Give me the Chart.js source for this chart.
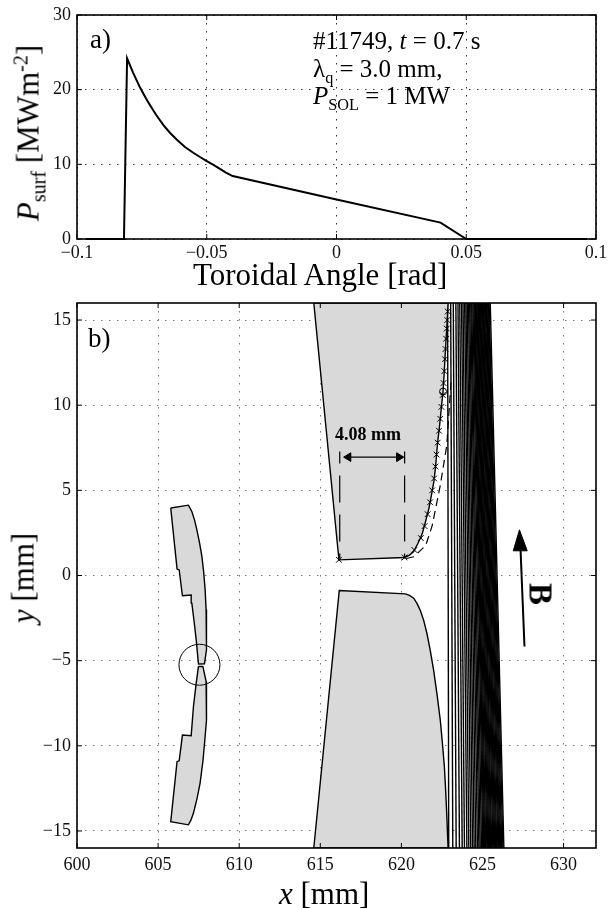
<!DOCTYPE html>
<html lang="en">
<head>
<meta charset="UTF-8">
<title>Toroidal heat load</title>
<script src="https://cdn.jsdelivr.net/npm/chart.js@4/dist/chart.umd.js"></script>
<style>
    html, body { margin: 0; padding: 0; background: #fff; }
    #page { position: relative; width: 608px; height: 909px; overflow: hidden; font-family: "Liberation Serif", serif; color: #000; }
    canvas { position: absolute; left: 0; }
    .t { position: absolute; white-space: nowrap; line-height: 1; }
    .t i { font-style: italic; }
    .t sub, .t sup { font-size: 65%; line-height: 0; }
</style>
</head>
<body>
<div id="page">
    <canvas id="chartA" width="608" height="290" style="top:0"></canvas>
    <canvas id="chartB" width="608" height="619" style="top:290px"></canvas>

    <div class="t" style="left:90px;top:26px;font-size:27px">a)</div>
    <div class="t" style="left:313px;top:28px;font-size:25px">#11749, <i>t</i> = 0.7 s</div>
    <div class="t" style="left:313px;top:56px;font-size:25px">&lambda;<sub>q</sub> = 3.0 mm,</div>
    <div class="t" style="left:313px;top:83px;font-size:25px"><i>P</i><sub>SOL</sub> = 1 MW</div>
    <div class="t" style="left:193px;top:259px;font-size:31px">Toroidal Angle [rad]</div>
    <div class="t" style="left:28px;top:133px;font-size:31px;transform:translate(-50%,-50%) rotate(-90deg)"><i>P</i><sub>surf</sub> [MWm<sup>-2</sup>]</div>

    <div class="t" style="left:88px;top:325px;font-size:27px">b)</div>
    <div class="t" style="left:335px;top:425px;font-size:18px;font-weight:bold">4.08 mm</div>
    <div class="t" style="left:540px;top:594px;font-size:33px;font-weight:bold;transform:translate(-50%,-50%) rotate(90deg)">B</div>
    <div class="t" style="left:23px;top:578px;font-size:31px;transform:translate(-50%,-50%) rotate(-90deg)"><i>y</i> [mm]</div>
    <div class="t" style="left:279px;top:878px;font-size:31px"><i>x</i> [mm]</div>
</div>

<script>
    // panel a) surface power vs toroidal angle
    const angle = [-0.0965, -0.0819, -0.0807, -0.0784, -0.0757, -0.0734, -0.0719, -0.0696, -0.0667, -0.0642, -0.0616, -0.0584, -0.0552, -0.0526, -0.05, -0.0476, -0.0449, -0.0426, -0.04, 0, 0.0401, 0.05, 0.0965]
    const power = [0, 0, 24.2, 22.29, 20.28, 18.81, 17.94, 16.67, 15.26, 14.23, 13.32, 12.32, 11.55, 10.98, 10.44, 9.95, 9.4, 8.9, 8.43, 5.3, 2.2, 0, 0]
    const angleTicks = [-0.1, -0.05, 0, 0.05, 0.1]
    const angleTickLabels = ['\u22120.1', '\u22120.05', '0', '0.05', '0.1']
    const powerTicks = [0, 10, 20, 30]

    // panel b) tile outlines in mm
    const upperTileX = [614.6, 616.15, 620.2, 620.5, 620.76, 621.0, 621.15, 621.3, 621.5, 621.7, 621.85, 622.0, 622.1, 622.17, 622.24, 622.32, 622.4, 622.48, 622.57, 622.64, 622.7, 622.76, 622.82, 622.88, 614.6]
    const upperTileY = [16, 0.92, 1.06, 1.2, 1.41, 1.85, 2.15, 2.49, 3.2, 3.95, 4.7, 5.5, 6.3, 7.1, 7.85, 8.5, 9.2, 10, 10.8, 11.9, 12.95, 13.9, 14.9, 16, 16]
    const lowerTileX = [614.6, 616.17, 620.25, 620.5, 620.76, 620.97, 621.17, 621.38, 621.58, 621.78, 621.99, 622.2, 622.4, 622.53, 622.65, 622.73, 622.81, 622.88, 614.6]
    const lowerTileY = [-16, -0.88, -1.08, -1.17, -1.33, -1.65, -2.05, -2.65, -3.42, -4.4, -5.57, -7.0, -8.5, -9.85, -11.2, -12.6, -14.3, -16, -16]
    const gapUpperX = [605.78, 606.87, 607.08, 607.25, 607.39, 607.55, 607.7, 607.81, 607.9, 607.96, 608.0, 607.99, 607.96, 607.86, 607.49, 607.42, 607.35, 607.22, 607.08, 607.04, 606.5, 606.3, 606.17, 605.78]
    const gapUpperY = [3.96, 4.13, 3.76, 3.25, 2.68, 1.95, 1.12, 0.2, -0.84, -2.0, -3.19, -3.8, -4.36, -5.18, -5.2, -4.5, -3.78, -2.7, -1.62, -1.15, -1.19, 0.33, 0.38, 3.96]
    const gapLowerX = [607.49, 607.76, 607.96, 607.99, 608.0, 607.96, 607.9, 607.77, 607.59, 607.4, 607.18, 607.03, 606.87, 605.78, 606.17, 606.3, 606.5, 607.04, 607.18, 607.35, 607.49]
    const gapLowerY = [-5.34, -5.34, -6.22, -6.85, -7.49, -8.5, -9.45, -10.85, -12.19, -13.1, -13.95, -14.35, -14.64, -14.46, -10.92, -10.88, -9.37, -9.41, -7.69, -6.32, -5.34]

    // crosses along the tile surface
    const crossX = [616.15, 620.2, 620.8, 621.2, 621.43, 621.62, 621.77, 621.9, 622.02, 622.1, 622.17, 622.24, 622.32, 622.4, 622.47, 622.55, 622.6, 622.65, 622.69, 622.72, 622.76, 622.8, 622.83, 622.86]
    const crossY = [0.92, 1.06, 1.5, 2.2, 2.9, 3.6, 4.3, 5.0, 5.7, 6.4, 7.1, 7.8, 8.5, 9.2, 9.9, 10.6, 11.3, 12.0, 12.7, 13.3, 13.9, 14.5, 15.0, 15.5]
    const dashedX = [620.3, 620.76, 621.5, 621.9, 622.4, 622.8, 623.06]
    const dashedY = [1.0, 1.1, 1.76, 2.93, 5.3, 7.65, 11.35]

    // field lines, x at the top (y=16) and the bottom (y=-16)
    const fieldTopX = [622.85, 623.04, 623.2, 623.36, 623.49, 623.6, 623.71, 623.8, 623.9, 623.98, 624.06, 624.14, 624.21, 624.28, 624.34, 624.41, 624.47, 624.52, 624.56, 624.61, 624.66, 624.71, 624.75, 624.8, 624.85, 624.89, 624.94, 624.99, 625.04, 625.08, 625.13, 625.18, 625.23, 625.27, 625.32, 625.37, 625.41, 625.48]
    const fieldBottomX = [622.92, 623.17, 623.38, 623.58, 623.75, 623.89, 624.04, 624.16, 624.28, 624.39, 624.49, 624.59, 624.69, 624.78, 624.86, 624.94, 625.02, 625.08, 625.14, 625.2, 625.27, 625.33, 625.39, 625.45, 625.51, 625.57, 625.64, 625.7, 625.76, 625.82, 625.88, 625.95, 626.01, 626.07, 626.13, 626.19, 626.26, 626.32]

    // the 4.08 mm marker and the B arrow
    const markLeftX = [616.2, 616.2]
    const markRightX = [620.2, 620.2]
    const markY = [7.28, 1.0]
    const spanX = [616.6, 620.0]
    const spanY = [6.95, 6.95]
    const headLeftX = [616.44, 616.87, 616.87, 616.44]
    const headRightX = [620.15, 619.72, 619.72, 620.15]
    const headY = [6.95, 7.2, 6.7, 6.95]
    const shaftX = [627.35, 627.59]
    const shaftY = [1.47, -4.17]
    const bHeadX = [627.28, 626.9, 627.76, 627.28]
    const bHeadY = [2.68, 1.45, 1.45, 2.68]
    const circleX = [607.55]
    const circleY = [-5.24]
    const probeX = [622.57]
    const probeY = [10.8]

    const xTicksB = [600, 605, 610, 615, 620, 625, 630]
    const yTicksB = [-15, -10, -5, 0, 5, 10, 15]
    const yTickLabelsB = ['\u221215', '\u221210', '\u22125', '0', '5', '10', '15']

    const zip = (xs, ys) => xs.map((x, i) => ({ x: x, y: ys[i] }))
    const tickFont = { family: 'Liberation Serif', size: 18 }

    // outline + frame and small inward ticks on all four sides, matlab style
    const framePlugin = {
        id: 'frame',
        afterDatasetsDraw(chart) {
            const c = chart.ctx, a = chart.chartArea
            c.save()
            c.strokeStyle = '#000'
            c.lineWidth = 1
            c.beginPath()
            chart.scales.x.ticks.forEach(t => {
                const px = chart.scales.x.getPixelForValue(t.value)
                c.moveTo(px, a.bottom); c.lineTo(px, a.bottom - 5)
                c.moveTo(px, a.top); c.lineTo(px, a.top + 5)
            })
            chart.scales.y.ticks.forEach(t => {
                const py = chart.scales.y.getPixelForValue(t.value)
                c.moveTo(a.left, py); c.lineTo(a.left + 5, py)
                c.moveTo(a.right, py); c.lineTo(a.right - 5, py)
            })
            c.stroke()
            c.lineWidth = 1.6
            c.strokeRect(a.left, a.top, a.right - a.left, a.bottom - a.top)
            c.restore()
        }
    }

    const axis = (min, max, tickValues, labelOf, fitSize, pad, dots) => ({
        type: 'linear', min: min, max: max,
        afterBuildTicks: s => { s.ticks = tickValues.map(v => ({ value: v })) },
        afterFit: s => {
            if (s.isHorizontal()) s.height = fitSize; else s.width = fitSize
            s.paddingLeft = s.paddingRight = s.paddingTop = s.paddingBottom = 0
        },
        grid: { color: dots, lineWidth: 1, drawTicks: false },
        border: { display: false, dash: [1.5, 6.5] },
        ticks: {
            color: '#111', font: tickFont, padding: pad, autoSkip: false, maxRotation: 0,
            callback: (v, i) => labelOf[i]
        }
    })

    new Chart(document.getElementById('chartA'), {
        type: 'scatter',
        data: {
            datasets: [{
                data: zip(angle, power), showLine: true, borderColor: '#000', borderWidth: 2,
                pointRadius: 0, tension: 0, clip: false
            }]
        },
        options: {
            responsive: false, animation: false,
            layout: { autoPadding: false, padding: { top: 15, right: 12, left: 0, bottom: 0 } },
            plugins: { legend: { display: false }, tooltip: { enabled: false } },
            scales: {
                x: axis(-0.1, 0.1, angleTicks, angleTickLabels, 51, 3, '#333'),
                y: axis(0, 30, powerTicks, powerTicks.map(String), 77, 6, '#333')
            }
        },
        plugins: [framePlugin]
    })

    const outline = (xs, ys) => ({
        data: zip(xs, ys), showLine: true, borderColor: '#000', borderWidth: 1.4,
        backgroundColor: '#d9d9d9', fill: 'shape', pointRadius: 0, tension: 0
    })
    const solid = (xs, ys, w) => ({
        data: zip(xs, ys), showLine: true, borderColor: '#000', borderWidth: w, pointRadius: 0, tension: 0
    })
    const head = (xs, ys) => ({
        data: zip(xs, ys), showLine: true, borderColor: '#000', borderWidth: 1,
        backgroundColor: '#000', fill: 'shape', pointRadius: 0, tension: 0
    })
    const dashed = (xs, ys, dash, offset) => ({
        data: zip(xs, ys), showLine: true, borderColor: '#000', borderWidth: 1.2,
        borderDash: dash, borderDashOffset: offset, pointRadius: 0, tension: 0
    })
    const marker = (xs, ys, style, r) => ({
        data: zip(xs, ys), showLine: false, pointStyle: style, pointRadius: r,
        pointBorderColor: '#000', pointBackgroundColor: 'rgba(0,0,0,0)', pointBorderWidth: 1
    })

    // first dataset ends up on top
    const datasetsB = [
        head(bHeadX, bHeadY),
        solid(shaftX, shaftY, 2),
        head(headLeftX, headY),
        head(headRightX, headY),
        solid(spanX, spanY, 1.3),
        dashed(markLeftX, markY, [27, 12], 15),
        dashed(markRightX, markY, [27, 12], 15),
        marker(probeX, probeY, 'circle', 3.5),
        marker(crossX, crossY, 'crossRot', 4),
        dashed(dashedX, dashedY, [8, 5], 0),
        marker(circleX, circleY, 'circle', 20.5),
        outline(upperTileX, upperTileY),
        outline(lowerTileX, lowerTileY),
        outline(gapUpperX, gapUpperY),
        outline(gapLowerX, gapLowerY)
    ].concat(fieldTopX.map((tx, i) => solid([tx, fieldBottomX[i]], [16, -16], 1.4)))

    new Chart(document.getElementById('chartB'), {
        type: 'scatter',
        data: { datasets: datasetsB },
        options: {
            responsive: false, animation: false,
            layout: { autoPadding: false, padding: { top: 13, right: 12, left: 0, bottom: 0 } },
            plugins: { legend: { display: false }, tooltip: { enabled: false } },
            scales: {
                x: axis(600, 632, xTicksB, xTicksB.map(String), 61, 6, '#777'),
                y: axis(-16, 16, yTicksB, yTickLabelsB, 77, 6, '#777')
            }
        },
        plugins: [framePlugin]
    })
</script>
</body>
</html>
